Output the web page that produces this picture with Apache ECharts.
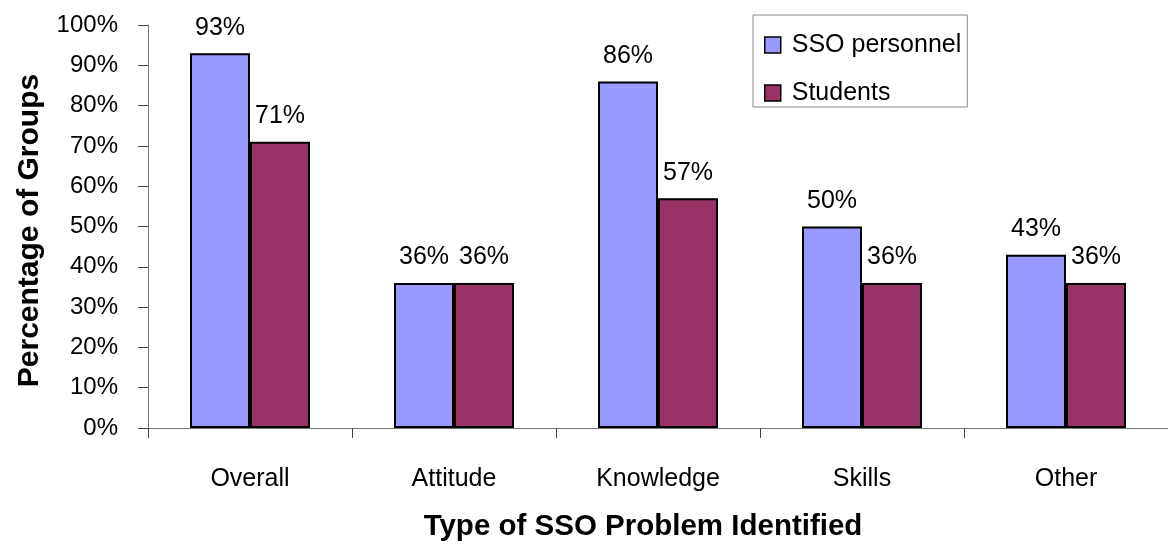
<!DOCTYPE html>
<html>
<head>
<meta charset="utf-8">
<script src="https://cdn.jsdelivr.net/npm/echarts@6/dist/echarts.min.js"></script>
<style>
  html, body { margin: 0; padding: 0; background: #fff; }
  #chart { width: 1168px; height: 548px; }
</style>
</head>
<body>
<div id="chart"></div>
<script>
// Problem types on the category axis
const categories = ['Overall', 'Attitude', 'Knowledge', 'Skills', 'Other'];
// Share of groups (%) identifying each problem type
const ssoPersonnel = [93, 36, 86, 50, 43];
const students = [71, 36, 57, 36, 36];
const seriesNames = ['SSO personnel', 'Students'];

const FONT = "'Liberation Sans', Arial, sans-serif";
const chart = echarts.init(document.getElementById('chart'));

const labelStyle = {
  show: true,
  position: 'top',
  distance: 13,
  color: '#000',
  fontFamily: FONT,
  fontSize: 25,
  formatter: p => p.value + '%'
};

chart.setOption({
  animation: false,
  backgroundColor: '#fff',
  textStyle: { fontFamily: FONT },
  grid: { left: 148, right: -8, top: 25, bottom: 120, containLabel: false },
  legend: {
    orient: 'vertical',
    left: 753,
    top: 15,
    padding: [16, 6, 0, 11],
    itemWidth: 16,
    itemHeight: 16,
    itemGap: 20,
    borderColor: '#888',
    borderWidth: 1,
    icon: 'rect',
    itemStyle: { borderColor: '#000', borderWidth: 1.5 },
    textStyle: { color: '#000', fontSize: 25, fontFamily: FONT, lineHeight: 28, padding: [0, 0, 0, 6] },
    data: seriesNames
  },
  xAxis: {
    type: 'category',
    data: categories,
    name: 'Type of SSO Problem Identified',
    nameLocation: 'middle',
    nameGap: 84,
    nameTextStyle: { color: '#000', fontSize: 29.5, fontWeight: 'bold', fontFamily: FONT, padding: [0, 30, 0, 0] },
    axisLine: { lineStyle: { color: '#777', width: 1 } },
    axisTick: { show: true, length: 10, lineStyle: { color: '#444' } },
    axisLabel: { color: '#000', fontSize: 25, fontFamily: FONT, margin: 39 }
  },
  yAxis: {
    type: 'value',
    min: 0,
    max: 100,
    interval: 10,
    name: 'Percentage of Groups',
    nameLocation: 'middle',
    nameGap: 103,
    nameRotate: 90,
    nameTextStyle: { color: '#000', fontSize: 30, fontWeight: 'bold', fontFamily: FONT, padding: [0, 8, 0, 0] },
    splitLine: { show: false },
    axisLine: { show: true, lineStyle: { color: '#777', width: 1 } },
    axisTick: { show: true, length: 10, lineStyle: { color: '#444' } },
    axisLabel: { color: '#000', fontSize: 24, fontFamily: FONT, margin: 30, formatter: '{value}%' }
  },
  series: [
    {
      name: seriesNames[0],
      type: 'bar',
      data: ssoPersonnel,
      barWidth: 60,
      barGap: '0%',
      itemStyle: { color: '#9999FF', borderColor: '#000', borderWidth: 2 },
      label: labelStyle
    },
    {
      name: seriesNames[1],
      type: 'bar',
      data: students,
      barWidth: 60,
      barGap: '0%',
      itemStyle: { color: '#993366', borderColor: '#000', borderWidth: 2 },
      label: labelStyle
    }
  ]
});
</script>
</body>
</html>
